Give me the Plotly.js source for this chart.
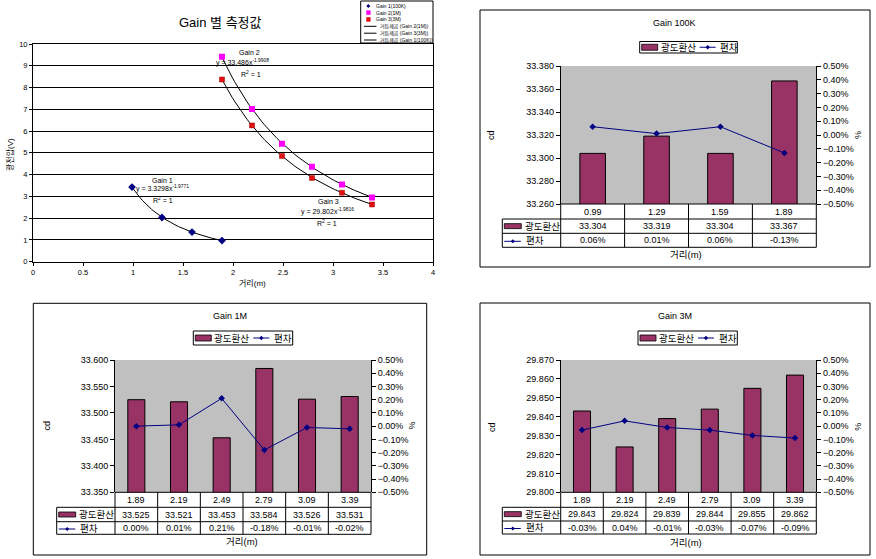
<!DOCTYPE html>
<html><head><meta charset="utf-8">
<script src="https://cdn.plot.ly/plotly-3.0.1.min.js"></script>
<style>html,body{margin:0;padding:0;background:#fff;}#chart{width:876px;height:559px;}</style>
</head><body><div id="chart"></div>
<script>
// ---------- data ----------
const gain1X = [0.99, 1.29, 1.59, 1.89];
const gain1Y = [3.43, 2.03, 1.36, 0.97];
const gain23X = [1.89, 2.19, 2.49, 2.79, 3.09, 3.39];
const gain2Y = [9.41, 7.01, 5.42, 4.36, 3.55, 2.95];
const gain3Y = [8.37, 6.26, 4.85, 3.85, 3.17, 2.63];

const dist100K = ['0.99', '1.29', '1.59', '1.89'];
const lum100K = [33.304, 33.319, 33.304, 33.367];
const dev100K = [0.06, 0.01, 0.06, -0.13];

const dist1M = ['1.89', '2.19', '2.49', '2.79', '3.09', '3.39'];
const lum1M = [33.525, 33.521, 33.453, 33.584, 33.526, 33.531];
const dev1M = [0.00, 0.01, 0.21, -0.18, -0.01, -0.02];

const dist3M = ['1.89', '2.19', '2.49', '2.79', '3.09', '3.39'];
const lum3M = [29.843, 29.824, 29.839, 29.844, 29.855, 29.862];
const dev3M = [-0.03, 0.04, -0.01, -0.03, -0.07, -0.09];

const scatterNames = ['Gain 1(100K)', 'Gain 2(1M)', 'Gain 3(3M)'];
const trendNames = ['거듭제곱 (Gain 2(1M))', '거듭제곱 (Gain 3(3M))', '거듭제곱 (Gain 1(100K))'];
const eqTexts = [
  ['Gain 1', 'y = 3.3298x<sup>-1.9771</sup>', 'R<sup>2</sup> = 1'],
  ['Gain 2', 'y = 33.486x<sup>-1.9908</sup>', 'R<sup>2</sup> = 1'],
  ['Gain 3', 'y = 29.802x<sup>-1.9816</sup>', 'R<sup>2</sup> = 1']
];
const barName = '광도환산';
const lineName = '편차';

// ---------- helpers ----------
const W = 876, H = 559;
const px = x => x / W;
const py = y => 1 - y / H;
const FONT = 'Liberation Sans, Arial, Noto Sans CJK KR, sans-serif';
const BAR = '#993366', NAVY = '#000080';

const shapes = [], annotations = [], traces = [];
function ann(x, y, text, size, extra) {
  annotations.push(Object.assign({xref: 'paper', yref: 'paper', x: px(x), y: py(y), text: text,
    showarrow: false, font: {family: FONT, size: size, color: '#000'}, xanchor: 'center', yanchor: 'middle'}, extra || {}));
}
function line(x0, y0, x1, y1, color, w) {
  shapes.push({type: 'line', xref: 'paper', yref: 'paper', x0: px(x0), y0: py(y0), x1: px(x1), y1: py(y1),
    line: {color: color || '#000', width: w || 1}});
}
function rect(x0, y0, x1, y1, fill, lc, lw) {
  shapes.push({type: 'rect', xref: 'paper', yref: 'paper', x0: px(x0), y0: py(y0), x1: px(x1), y1: py(y1),
    fillcolor: fill || 'rgba(0,0,0,0)', line: {color: lc || '#000', width: lw === undefined ? 1 : lw}});
}
function P(x, y) { return px(x).toFixed(5) + ',' + py(y).toFixed(5); }
function diamond(x, y, r, color) {
  shapes.push({type: 'path', xref: 'paper', yref: 'paper',
    path: 'M' + P(x, y - r) + ' L' + P(x + r, y) + ' L' + P(x, y + r) + ' L' + P(x - r, y) + ' Z',
    fillcolor: color, line: {width: 0}});
}
function powerFit(xs, ys) {
  let n = xs.length, sx = 0, sy = 0, sxx = 0, sxy = 0;
  for (let i = 0; i < n; i++) {
    const lx = Math.log(xs[i]), ly = Math.log(ys[i]);
    sx += lx; sy += ly; sxx += lx * lx; sxy += lx * ly;
  }
  const b = (n * sxy - sx * sy) / (n * sxx - sx * sx);
  const a = Math.exp((sy - b * sx) / n);
  return {a, b};
}
function trendTrace(xs, ys) {
  const f = powerFit(xs, ys);
  const lo = Math.min(...xs), hi = Math.max(...xs);
  const tx = [], ty = [];
  for (let i = 0; i <= 60; i++) { const x = lo + (hi - lo) * i / 60; tx.push(x); ty.push(f.a * Math.pow(x, f.b)); }
  return {type: 'scatter', mode: 'lines', x: tx, y: ty, xaxis: 'x', yaxis: 'y',
    line: {color: '#000', width: 1}, hoverinfo: 'skip'};
}

// ---------- panel A: scatter ----------
traces.push(trendTrace(gain1X, gain1Y));
traces.push(trendTrace(gain23X, gain2Y));
traces.push(trendTrace(gain23X, gain3Y));
traces.push({type: 'scatter', mode: 'markers', name: scatterNames[0], x: gain1X, y: gain1Y, xaxis: 'x', yaxis: 'y',
  marker: {symbol: 'diamond', size: 6, color: NAVY}});
traces.push({type: 'scatter', mode: 'markers', name: scatterNames[1], x: gain23X, y: gain2Y, xaxis: 'x', yaxis: 'y',
  marker: {symbol: 'square', size: 6, color: '#FF00FF'}});
traces.push({type: 'scatter', mode: 'markers', name: scatterNames[2], x: gain23X, y: gain3Y, xaxis: 'x', yaxis: 'y',
  marker: {symbol: 'square', size: 5, color: '#E01010', line: {color: '#A00000', width: 0.5}}});

ann(220, 22, 'Gain 별 측정값', 13);
ann(10, 155, '광전압(V)', 8, {textangle: -90});
ann(252, 283, '거리(m)', 8);
// equation labels
ann(162, 180, eqTexts[0][0], 7); ann(162, 188.5, eqTexts[0][1], 7); ann(163, 200, eqTexts[0][2], 7);
ann(249, 53, eqTexts[1][0], 7); ann(242, 62.5, eqTexts[1][1], 7); ann(251, 73.5, eqTexts[1][2], 7);
ann(328, 202, eqTexts[2][0], 7); ann(327, 211.5, eqTexts[2][1], 7); ann(327, 222.5, eqTexts[2][2], 7);
// legend box
rect(360.7, 1, 433, 43, '#fff', '#000', 1);
const legRows = [6, 12.6, 19.4, 26.3, 33.2, 40];
diamond(368.3, legRows[0], 2, NAVY);
rect(366.5, legRows[1] - 2, 370.3, legRows[1] + 2, '#FF00FF', '#FF00FF', 0.5);
rect(366.5, legRows[2] - 2, 370.3, legRows[2] + 2, '#E01010', '#E01010', 0.5);
for (let i = 0; i < 3; i++) {
  ann(373.5, legRows[i], scatterNames[i], 5, {xanchor: 'left'});
  line(364, legRows[3 + i], 376.5, legRows[3 + i], '#000', 1);
  ann(377.5, legRows[3 + i], trendNames[i], 5, {xanchor: 'left'});
}

// ---------- bar panels ----------
const panels = [
  {xa: 'x2', ya: 'y2', ya2: 'y3', cats: dist100K, lum: lum100K, dev: dev100K,
   plot: [560.7, 66, 816.3, 204], rows: [204, 219, 233.3, 247.3], tableLeft: 502.3,
   frame: [480, 10, 870, 267], title: [674.7, 22.7, 'Gain 100K'], legend: [639.7, 41.5, 737.3, 53],
   xtitle: [686.3, 254], cd: [491, 135], pct: [858, 135], yrange: [33.26, 33.38], dtick: 0.02},
  {xa: 'x3', ya: 'y4', ya2: 'y5', cats: dist1M, lum: lum1M, dev: dev1M,
   plot: [115, 360, 371, 492.3], rows: [492.3, 507.3, 521.7, 534.3], tableLeft: 56.7,
   frame: [33.3, 303.3, 426.7, 555], title: [230, 315.7, 'Gain 1M'], legend: [193.3, 331, 292.7, 345],
   xtitle: [241.7, 541.7], cd: [46.7, 425.7], pct: [411.7, 425.7], yrange: [33.35, 33.6], dtick: 0.05},
  {xa: 'x4', ya: 'y6', ya2: 'y7', cats: dist3M, lum: lum3M, dev: dev3M,
   plot: [560.7, 360, 816.3, 492.3], rows: [492.3, 507.3, 521, 534], tableLeft: 502.3,
   frame: [480, 303, 870, 555], title: [675.3, 315.7, 'Gain 3M'], legend: [638, 331, 737.3, 345],
   xtitle: [686.3, 542.3], cd: [491.3, 426.7], pct: [858, 426.7], yrange: [29.8, 29.87], dtick: 0.01}
];

const layout = {
  width: W, height: H, margin: {l: 0, r: 0, t: 0, b: 0, pad: 0},
  paper_bgcolor: '#fff', plot_bgcolor: 'rgba(0,0,0,0)', showlegend: false,
  bargap: 0.6,
  font: {family: FONT, size: 9, color: '#000'},
  xaxis: {domain: [px(33), px(433)], range: [0, 4], dtick: 0.5, tick0: 0, anchor: 'y',
    showline: true, mirror: true, linecolor: '#000', linewidth: 1, ticks: 'outside', ticklen: 3,
    tickcolor: '#000', showgrid: false, zeroline: false, tickfont: {size: 7.5}},
  yaxis: {domain: [py(261.7), py(44)], range: [0, 10], dtick: 1, anchor: 'x',
    showline: true, mirror: true, linecolor: '#000', linewidth: 1, ticks: 'outside', ticklen: 3,
    tickcolor: '#000', showgrid: true, gridcolor: '#000', gridwidth: 1, zeroline: false, tickfont: {size: 7.5}}
};

panels.forEach(p => {
  const xn = 'xaxis' + p.xa.slice(1), yn = 'yaxis' + p.ya.slice(1), y2n = 'yaxis' + p.ya2.slice(1);
  const n = p.cats.length;
  const [L, T, R, B] = p.plot;
  const cw = (R - L) / n;
  layout[xn] = {domain: [px(L), px(R)], type: 'category', range: [-0.5, n - 0.5], anchor: p.ya,
    showticklabels: false, ticks: '', showline: false, showgrid: false, zeroline: false};
  layout[yn] = {domain: [py(B), py(T)], range: p.yrange, dtick: p.dtick, tick0: p.yrange[0], tickformat: '.3f',
    anchor: p.xa, showline: true, linecolor: '#000', linewidth: 1, ticks: 'outside', ticklen: 4,
    tickcolor: '#000', showgrid: false, zeroline: false, tickfont: {size: 9}};
  layout[y2n] = {overlaying: p.ya, side: 'right', anchor: p.xa, range: [-0.5, 0.5], dtick: 0.1, tick0: -0.5,
    tickformat: '.2f', ticksuffix: '%', showline: true, linecolor: '#000', linewidth: 1, ticks: 'outside',
    ticklen: 4, tickcolor: '#000', showgrid: false, zeroline: false, tickfont: {size: 9}};
  // gray plot background
  shapes.push({type: 'rect', xref: p.xa + ' domain', yref: p.ya + ' domain', x0: 0, x1: 1, y0: 0, y1: 1,
    fillcolor: '#C0C0C0', line: {width: 0}, layer: 'below'});
  traces.push({type: 'bar', x: p.cats, y: p.lum, xaxis: p.xa, yaxis: p.ya, name: barName,
    marker: {color: BAR, line: {color: '#000', width: 1}}});
  traces.push({type: 'scatter', mode: 'lines+markers', x: p.cats, y: p.dev, xaxis: p.xa, yaxis: p.ya2, name: lineName,
    line: {color: NAVY, width: 1}, marker: {symbol: 'diamond', size: 5, color: NAVY}});
  // frame
  rect(p.frame[0], p.frame[1], p.frame[2], p.frame[3], null, '#000', 1);
  ann(p.title[0], p.title[1], p.title[2], 9);
  // legend
  const [lL, lT, lR, lB] = p.legend, lm = (lT + lB) / 2;
  rect(lL, lT, lR, lB, '#fff', '#000', 1);
  rect(lL + 2, lm - 3, lL + 18, lm + 3, BAR, '#000', 0.8);
  ann(lL + 19, lm, barName, 9.5, {xanchor: 'left'});
  line(lL + 60, lm, lL + 76, lm, NAVY, 1);
  diamond(lL + 68, lm, 2.2, NAVY);
  ann(lL + 78.5, lm, lineName, 9.5, {xanchor: 'left'});
  // table
  const [r0, r1, r2, r3] = p.rows;
  line(L, r0, R, r0); line(p.tableLeft, r1, R, r1); line(p.tableLeft, r2, R, r2); line(p.tableLeft, r3, R, r3);
  line(p.tableLeft, r1, p.tableLeft, r3);
  for (let i = 0; i <= n; i++) line(L + i * cw, r0, L + i * cw, r3);
  const c1 = (r0 + r1) / 2, c2 = (r1 + r2) / 2, c3 = (r2 + r3) / 2;
  p.cats.forEach((c, i) => {
    const cx = L + (i + 0.5) * cw;
    ann(cx, c1, c, 9);
    ann(cx, c2, p.lum[i].toFixed(3), 9);
    ann(cx, c3, p.dev[i].toFixed(2) + '%', 9);
  });
  // row labels
  const tl = p.tableLeft;
  rect(tl + 2, c2 - 2.5, tl + 19, c2 + 2.5, BAR, '#000', 0.8);
  ann(tl + 20.5, c2, barName, 9.5, {xanchor: 'left'});
  line(tl + 2, c3 + 1, tl + 18.5, c3 + 1, NAVY, 1);
  diamond(tl + 10.5, c3 + 1, 2, NAVY);
  ann(tl + 21.5, c3, lineName, 9.5, {xanchor: 'left'});
  // axis titles
  ann(p.xtitle[0], p.xtitle[1], '거리(m)', 9.5);
  ann(p.cd[0], p.cd[1], 'cd', 9, {textangle: -90});
  ann(p.pct[0], p.pct[1], '%', 9, {textangle: -90});
});

layout.shapes = shapes;
layout.annotations = annotations;
Plotly.newPlot('chart', traces, layout, {staticPlot: true, displayModeBar: false});
</script>
</body></html>
